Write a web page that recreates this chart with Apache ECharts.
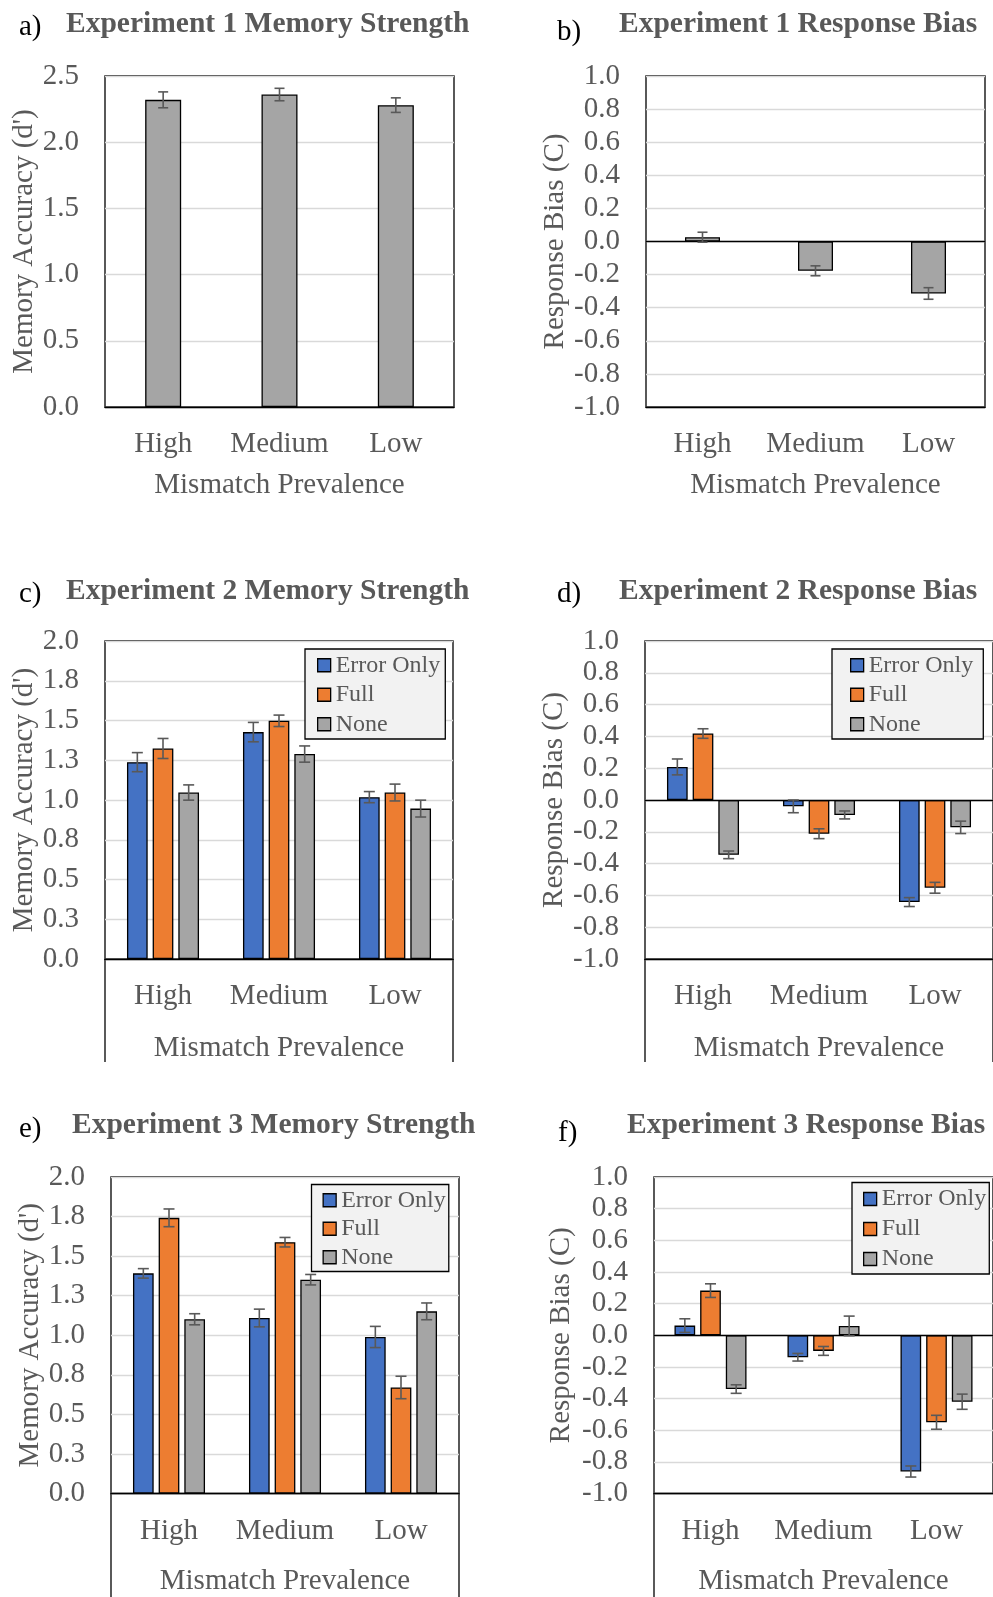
<!DOCTYPE html>
<html>
<head>
<meta charset="utf-8">
<script src="https://cdn.jsdelivr.net/npm/echarts@6/dist/echarts.min.js"></script>
<style>html,body{margin:0;padding:0;background:#fff}#chart{width:993px;height:1597px}</style>
</head>
<body>
<div id="chart"></div>
<script>
// ---------- data ----------
const categories = ['High', 'Medium', 'Low'];
const conditions = ['Error Only', 'Full', 'None'];

const exp1Dprime = [2.32, 2.36, 2.28];
const exp1DprimeErr = [0.06, 0.047, 0.055];
const exp1Bias = [0.026, -0.177, -0.314];
const exp1BiasErr = [0.03, 0.03, 0.035];

const exp2DprimeErrorOnly = [1.238, 1.427, 1.018];
const exp2DprimeFull = [1.324, 1.498, 1.047];
const exp2DprimeNone = [1.047, 1.289, 0.946];
const exp2DprimeErrorOnlySE = [0.06, 0.061, 0.035];
const exp2DprimeFullSE = [0.063, 0.036, 0.053];
const exp2DprimeNoneSE = [0.048, 0.051, 0.053];

const exp2BiasErrorOnly = [0.208, -0.04, -0.642];
const exp2BiasFull = [0.418, -0.212, -0.552];
const exp2BiasNone = [-0.345, -0.094, -0.172];
const exp2BiasErrorOnlySE = [0.05, 0.04, 0.028];
const exp2BiasFullSE = [0.03, 0.031, 0.034];
const exp2BiasNoneSE = [0.024, 0.025, 0.039];

const exp3DprimeErrorOnly = [1.391, 1.109, 0.989];
const exp3DprimeFull = [1.742, 1.588, 0.670];
const exp3DprimeNone = [1.101, 1.351, 1.151];
const exp3DprimeErrorOnlySE = [0.03, 0.056, 0.067];
const exp3DprimeFullSE = [0.056, 0.03, 0.071];
const exp3DprimeNoneSE = [0.035, 0.033, 0.053];

const exp3BiasErrorOnly = [0.061, -0.139, -0.861];
const exp3BiasFull = [0.282, -0.099, -0.55];
const exp3BiasNone = [-0.34, 0.059, -0.42];
const exp3BiasErrorOnlySE = [0.043, 0.024, 0.035];
const exp3BiasFullSE = [0.043, 0.028, 0.044];
const exp3BiasNoneSE = [0.027, 0.062, 0.048];

const memTicksExp1 = ['0.0', '0.5', '1.0', '1.5', '2.0', '2.5'];
const memTicksExp23 = ['0.0', '0.3', '0.5', '0.8', '1.0', '1.3', '1.5', '1.8', '2.0'];
const biasTicks = ['-1.0', '-0.8', '-0.6', '-0.4', '-0.2', '0.0', '0.2', '0.4', '0.6', '0.8', '1.0'];

// ---------- styling ----------
const FONT = 'Liberation Serif';
const TXT = '#595959';
const COLORS = ['#4472C4', '#ED7D31', '#A5A5A5'];
const GREY = '#A5A5A5';

const grids = [
  {left: 105, top: 76, width: 349, height: 331},
  {left: 646, top: 76, width: 339, height: 331},
  {left: 105, top: 641, width: 348, height: 318},
  {left: 645, top: 641, width: 348, height: 318},
  {left: 111, top: 1177, width: 348, height: 317},
  {left: 654, top: 1177, width: 348, height: 317}
];

const yName = ['Memory Accuracy (d\')', 'Response Bias (C)', 'Memory Accuracy (d\')', 'Response Bias (C)', 'Memory Accuracy (d\')', 'Response Bias (C)'];
const yNameGap = [65, 75, 63.5, 75.5, 66.5, 78];
const xNameGap = [63.5, 63.5, 75, 75, 73.5, 73.5];
const yCfg = [
  {min: 0, max: 2.5, interval: 0.5, ticks: memTicksExp1},
  {min: -1, max: 1, interval: 0.2, ticks: biasTicks},
  {min: 0, max: 2, interval: 0.25, ticks: memTicksExp23},
  {min: -1, max: 1, interval: 0.2, ticks: biasTicks},
  {min: 0, max: 2, interval: 0.25, ticks: memTicksExp23},
  {min: -1, max: 1, interval: 0.2, ticks: biasTicks}
];

const option = {
  backgroundColor: '#fff',
  animation: false,
  grid: grids.map(g => Object.assign({show: true, borderColor: '#000', borderWidth: 1.3, backgroundColor: 'transparent', containLabel: false}, g)),
  xAxis: grids.map((g, i) => ({
    type: 'category', gridIndex: i, data: categories,
    axisLine: {show: true, onZero: false, lineStyle: {color: '#000', width: 1.3}},
    axisTick: {show: false},
    axisLabel: {interval: 0, margin: 23, fontFamily: FONT, fontSize: 29, color: TXT},
    name: 'Mismatch Prevalence', nameLocation: 'middle', nameGap: xNameGap[i],
    nameTextStyle: {fontFamily: FONT, fontSize: 29, color: TXT}
  })),
  yAxis: grids.map((g, i) => ({
    type: 'value', gridIndex: i, min: yCfg[i].min, max: yCfg[i].max, interval: yCfg[i].interval,
    axisLine: {show: false}, axisTick: {show: false},
    splitLine: {show: true, lineStyle: {color: '#d9d9d9', width: 1.3}},
    axisLabel: {
      margin: 26, fontFamily: FONT, fontSize: 29, color: TXT, padding: [4, 0, 0, 0],
      formatter: (v) => yCfg[i].ticks[Math.round((v - yCfg[i].min) / yCfg[i].interval)]
    },
    name: yName[i], nameLocation: 'middle', nameGap: yNameGap[i],
    nameTextStyle: {fontFamily: FONT, fontSize: 29, color: TXT}
  })),
  legend: [],
  series: [],
  graphic: []
};

function errSeries(gi, vals, errs, offset, cap) {
  return {
    type: 'custom', xAxisIndex: gi, yAxisIndex: gi, z: 6, silent: true,
    encode: {x: 0, y: 1},
    data: vals.map((v, i) => [i, v, errs[i]]),
    renderItem: (params, api) => {
      const i = api.value(0), v = api.value(1), e = api.value(2);
      const hi = api.coord([i, v + e]);
      const lo = api.coord([i, v - e]);
      const x = hi[0] + offset;
      const style = {stroke: '#595959', lineWidth: 1.6};
      return {type: 'group', children: [
        {type: 'line', shape: {x1: x, y1: hi[1], x2: x, y2: lo[1]}, style: style},
        {type: 'line', shape: {x1: x - cap / 2, y1: hi[1], x2: x + cap / 2, y2: hi[1]}, style: style},
        {type: 'line', shape: {x1: x - cap / 2, y1: lo[1], x2: x + cap / 2, y2: lo[1]}, style: style}
      ]};
    }
  };
}

const zeroLine = {
  silent: true, symbol: 'none', label: {show: false},
  lineStyle: {color: '#000', width: 1.3, type: 'solid'},
  data: [{yAxis: 0}]
};

// Experiment 1 (single series)
[[exp1Dprime, exp1DprimeErr, 36], [exp1Bias, exp1BiasErr, 35]].forEach(([vals, errs, bw], gi) => {
  const s = {
    type: 'bar', name: 'Exp1-' + gi, xAxisIndex: gi, yAxisIndex: gi, barWidth: bw, data: vals,
    itemStyle: {color: GREY, borderColor: '#000', borderWidth: 1.3}, z: 3
  };
  if (gi === 1) s.markLine = zeroLine;
  option.series.push(s);
  option.series.push(errSeries(gi, vals, errs, 0, 10));
});

// Experiments 2 & 3 (grouped)
const grouped = [
  [2, [exp2DprimeErrorOnly, exp2DprimeFull, exp2DprimeNone], [exp2DprimeErrorOnlySE, exp2DprimeFullSE, exp2DprimeNoneSE]],
  [3, [exp2BiasErrorOnly, exp2BiasFull, exp2BiasNone], [exp2BiasErrorOnlySE, exp2BiasFullSE, exp2BiasNoneSE]],
  [4, [exp3DprimeErrorOnly, exp3DprimeFull, exp3DprimeNone], [exp3DprimeErrorOnlySE, exp3DprimeFullSE, exp3DprimeNoneSE]],
  [5, [exp3BiasErrorOnly, exp3BiasFull, exp3BiasNone], [exp3BiasErrorOnlySE, exp3BiasFullSE, exp3BiasNoneSE]]
];
const BW = 20.7, GAP = 0.24;
const step = BW * (1 + GAP);
grouped.forEach(([gi, sets, errsets]) => {
  sets.forEach((vals, k) => {
    const s = {
      type: 'bar', name: conditions[k], xAxisIndex: gi, yAxisIndex: gi, barWidth: BW, barGap: (GAP * 100) + '%',
      data: vals, itemStyle: {color: COLORS[k], borderColor: '#000', borderWidth: 1.3}, z: 3
    };
    if (k === 0 && (gi === 3 || gi === 5)) s.markLine = zeroLine;
    option.series.push(s);
  });
  sets.forEach((vals, k) => {
    option.series.push(errSeries(gi, vals, errsets[k], (k - 1) * step, 11));
  });
});

// legends
const legendBoxes = [
  {left: 305, top: 649, padding: [1.5, 5, 0, 12], lh: 29.5},
  {left: 832, top: 649, padding: [1.5, 10, 0, 18], lh: 29.5},
  {left: 311.5, top: 1184.5, padding: [1.5, 3, 0, 11], lh: 28.5},
  {left: 852, top: 1182.5, padding: [1.5, 3, 0, 11], lh: 30}
];
legendBoxes.forEach(b => {
  option.legend.push({
    orient: 'vertical', left: b.left, top: b.top, padding: b.padding,
    itemWidth: 13, itemHeight: 13, itemGap: 0, selectedMode: false,
    backgroundColor: '#f2f2f2', borderColor: '#000', borderWidth: 1.3,
    icon: 'rect', data: conditions,
    itemStyle: {borderColor: '#000', borderWidth: 1.3},
    textStyle: {fontFamily: FONT, fontSize: 24, color: TXT, lineHeight: b.lh}
  });
});

// frame extensions below category axis for panels c-f
[[2, 1062], [3, 1062], [4, 1597], [5, 1597]].forEach(([gi, yEnd]) => {
  const g = grids[gi];
  const y0 = g.top + g.height;
  [g.left, g.left + g.width].forEach(x => {
    option.graphic.push({type: 'line', silent: true, shape: {x1: x, y1: y0, x2: x, y2: yEnd}, style: {stroke: '#000', lineWidth: 1.3}});
  });
});

// panel letters and titles
const panelTexts = [
  ['a)', 19, 27, ''], ['Experiment 1 Memory Strength', 66, 24, 'bold'],
  ['b)', 557, 32, ''], ['Experiment 1 Response Bias', 619, 24, 'bold'],
  ['c)', 19, 594, ''], ['Experiment 2 Memory Strength', 66, 591, 'bold'],
  ['d)', 557, 594, ''], ['Experiment 2 Response Bias', 619, 591, 'bold'],
  ['e)', 19, 1129, ''], ['Experiment 3 Memory Strength', 72, 1125, 'bold'],
  ['f)', 558, 1133, ''], ['Experiment 3 Response Bias', 627, 1125, 'bold']
];
panelTexts.forEach(([t, x, y, w]) => {
  option.graphic.push({
    type: 'text', silent: true, x: x, y: y,
    style: {text: t, fontFamily: FONT, fontSize: w ? 29.5 : 29, fontWeight: w || 'normal', fill: w ? TXT : '#000', verticalAlign: 'middle', align: 'left'}
  });
});

const chart = echarts.init(document.getElementById('chart'), null, {renderer: 'canvas'});
chart.setOption(option);
</script>
</body>
</html>
